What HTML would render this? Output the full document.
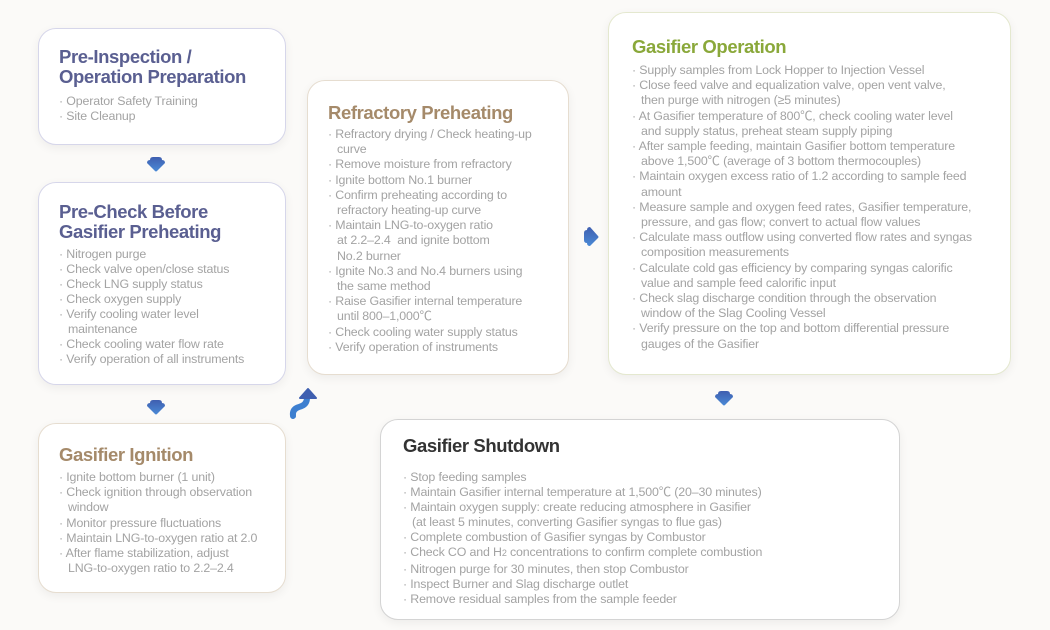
<!DOCTYPE html>
<html><head><meta charset="utf-8"><style>
body{margin:0;width:1050px;height:630px;background:#fbfaf8;position:relative;overflow:hidden;font-family:"Liberation Sans","Noto Sans CJK KR",sans-serif}
.box{position:absolute;background:#fff;border-radius:18px;box-shadow:0 3px 10px rgba(0,0,0,0.06);box-sizing:border-box}
.t{position:absolute;font-weight:bold;font-size:18.5px;line-height:20px;letter-spacing:-0.4px;white-space:nowrap}
.b{position:absolute;font-size:12.4px;color:#a3a3a3;white-space:nowrap;letter-spacing:-0.15px}
.b div{padding-left:9px;text-indent:-9px}
.ic{position:absolute}
</style></head><body>

<div class="box" style="left:38px;top:28px;width:248px;height:117px;border:1px solid #d6d6ea"></div>
<div class="t" style="left:59px;top:47px;color:#5a5f91">Pre-Inspection /<br>Operation Preparation</div>
<div class="b" style="left:59px;top:94px;line-height:15px"><div>· Operator Safety Training</div><div>· Site Cleanup</div></div>

<div class="box" style="left:38px;top:182px;width:248px;height:203px;border:1px solid #d6d6ea"></div>
<div class="t" style="left:59px;top:202px;color:#5a5f91">Pre-Check Before<br>Gasifier Preheating</div>
<div class="b" style="left:59px;top:247px;line-height:15px">
<div>· Nitrogen purge</div><div>· Check valve open/close status</div><div>· Check LNG supply status</div><div>· Check oxygen supply</div><div>· Verify cooling water level<br>maintenance</div><div>· Check cooling water flow rate</div><div>· Verify operation of all instruments</div></div>

<div class="box" style="left:38px;top:423px;width:248px;height:170px;border:1px solid #e6ddd0"></div>
<div class="t" style="left:59px;top:445px;color:#a58a6a">Gasifier Ignition</div>
<div class="b" style="left:59px;top:470px;line-height:15.2px">
<div>· Ignite bottom burner (1 unit)</div><div>· Check ignition through observation<br>window</div><div>· Monitor pressure fluctuations</div><div>· Maintain LNG-to-oxygen ratio at 2.0</div><div>· After flame stabilization, adjust<br>LNG-to-oxygen ratio to 2.2–2.4</div></div>

<div class="box" style="left:307px;top:80px;width:262px;height:295px;border:1px solid #e6ddd0"></div>
<div class="t" style="left:328px;top:103px;color:#a58a6a">Refractory Preheating</div>
<div class="b" style="left:328px;top:127px;line-height:15.2px">
<div>· Refractory drying / Check heating-up<br>curve</div><div>· Remove moisture from refractory</div><div>· Ignite bottom No.1 burner</div><div>· Confirm preheating according to<br>refractory heating-up curve</div><div>· Maintain LNG-to-oxygen ratio<br>at 2.2–2.4&nbsp; and ignite bottom<br>No.2 burner</div><div>· Ignite No.3 and No.4 burners using<br>the same method</div><div>· Raise Gasifier internal temperature<br>until 800–1,000℃</div><div>· Check cooling water supply status</div><div>· Verify operation of instruments</div></div>

<div class="box" style="left:608px;top:12px;width:403px;height:363px;border:1px solid #e4e8cf"></div>
<div class="t" style="left:632px;top:37px;color:#8aa83a">Gasifier Operation</div>
<div class="b" style="left:632px;top:63px;line-height:15.2px">
<div>· Supply samples from Lock Hopper to Injection Vessel</div><div>· Close feed valve and equalization valve, open vent valve,<br>then purge with nitrogen (≥5 minutes)</div><div>· At Gasifier temperature of 800℃, check cooling water level<br>and supply status, preheat steam supply piping</div><div>· After sample feeding, maintain Gasifier bottom temperature<br>above 1,500℃ (average of 3 bottom thermocouples)</div><div>· Maintain oxygen excess ratio of 1.2 according to sample feed<br>amount</div><div>· Measure sample and oxygen feed rates, Gasifier temperature,<br>pressure, and gas flow; convert to actual flow values</div><div>· Calculate mass outflow using converted flow rates and syngas<br>composition measurements</div><div>· Calculate cold gas efficiency by comparing syngas calorific<br>value and sample feed calorific input</div><div>· Check slag discharge condition through the observation<br>window of the Slag Cooling Vessel</div><div>· Verify pressure on the top and bottom differential pressure<br>gauges of the Gasifier</div></div>

<div class="box" style="left:380px;top:419px;width:520px;height:201px;border:1px solid #d4d4d4"></div>
<div class="t" style="left:403px;top:436px;color:#333">Gasifier Shutdown</div>
<div class="b" style="left:403px;top:470px;line-height:15.1px">
<div>· Stop feeding samples</div><div>· Maintain Gasifier internal temperature at 1,500℃ (20–30 minutes)</div><div>· Maintain oxygen supply: create reducing atmosphere in Gasifier<br>(at least 5 minutes, converting Gasifier syngas to flue gas)</div><div>· Complete combustion of Gasifier syngas by Combustor</div><div>· Check CO and H<span style="font-size:9px">2</span> concentrations to confirm complete combustion</div><div>· Nitrogen purge for 30 minutes, then stop Combustor</div><div>· Inspect Burner and Slag discharge outlet</div><div>· Remove residual samples from the sample feeder</div></div>

<svg class="ic" style="left:0;top:0" width="1050" height="630">
<defs><linearGradient id="g" x1="0" y1="0" x2="0" y2="1"><stop offset="0" stop-color="#3f5fb0"/><stop offset="1" stop-color="#4a8ad6"/></linearGradient>
<linearGradient id="g2" x1="0" y1="0" x2="0" y2="1" gradientUnits="userSpaceOnUse" gradientTransform=""><stop offset="0" stop-color="#3f5fb0"/><stop offset="1" stop-color="#3aa0e0"/></linearGradient></defs>
<g fill="url(#g)">
<path d="M150 160 Q150 157 153 157 L159 157 Q162 157 162 160 Q165 160 165 163 L157 171 Q156 172 155 171 L147 163 Q147 160 150 160Z"/>
<path d="M150 403 Q150 400 153 400 L159 400 Q162 400 162 403 Q165 403 165 406 L157 414 Q156 415 155 414 L147 406 Q147 403 150 403Z"/>
<path d="M718 394 Q718 391 721 391 L727 391 Q730 391 730 394 Q733 394 733 397 L725 405 Q724 406 723 405 L715 397 Q715 394 718 394Z"/>
<path d="M584 233 Q584 230 587 230 Q587 227 590 227 L598 236 Q599 237 598 238 L590 246 Q587 246 587 243 Q584 243 584 240Z"/>
</g>
<path d="M293 416 Q292 409 299 407 Q307 405 307 398" fill="none" stroke="#3d7fd0" stroke-width="6" stroke-linecap="round"/>
<path d="M300 398 L308 389 L316 398 Z" fill="#3f5fb0" stroke="#3f5fb0" stroke-width="2" stroke-linejoin="round"/>
</svg>
</body></html>
